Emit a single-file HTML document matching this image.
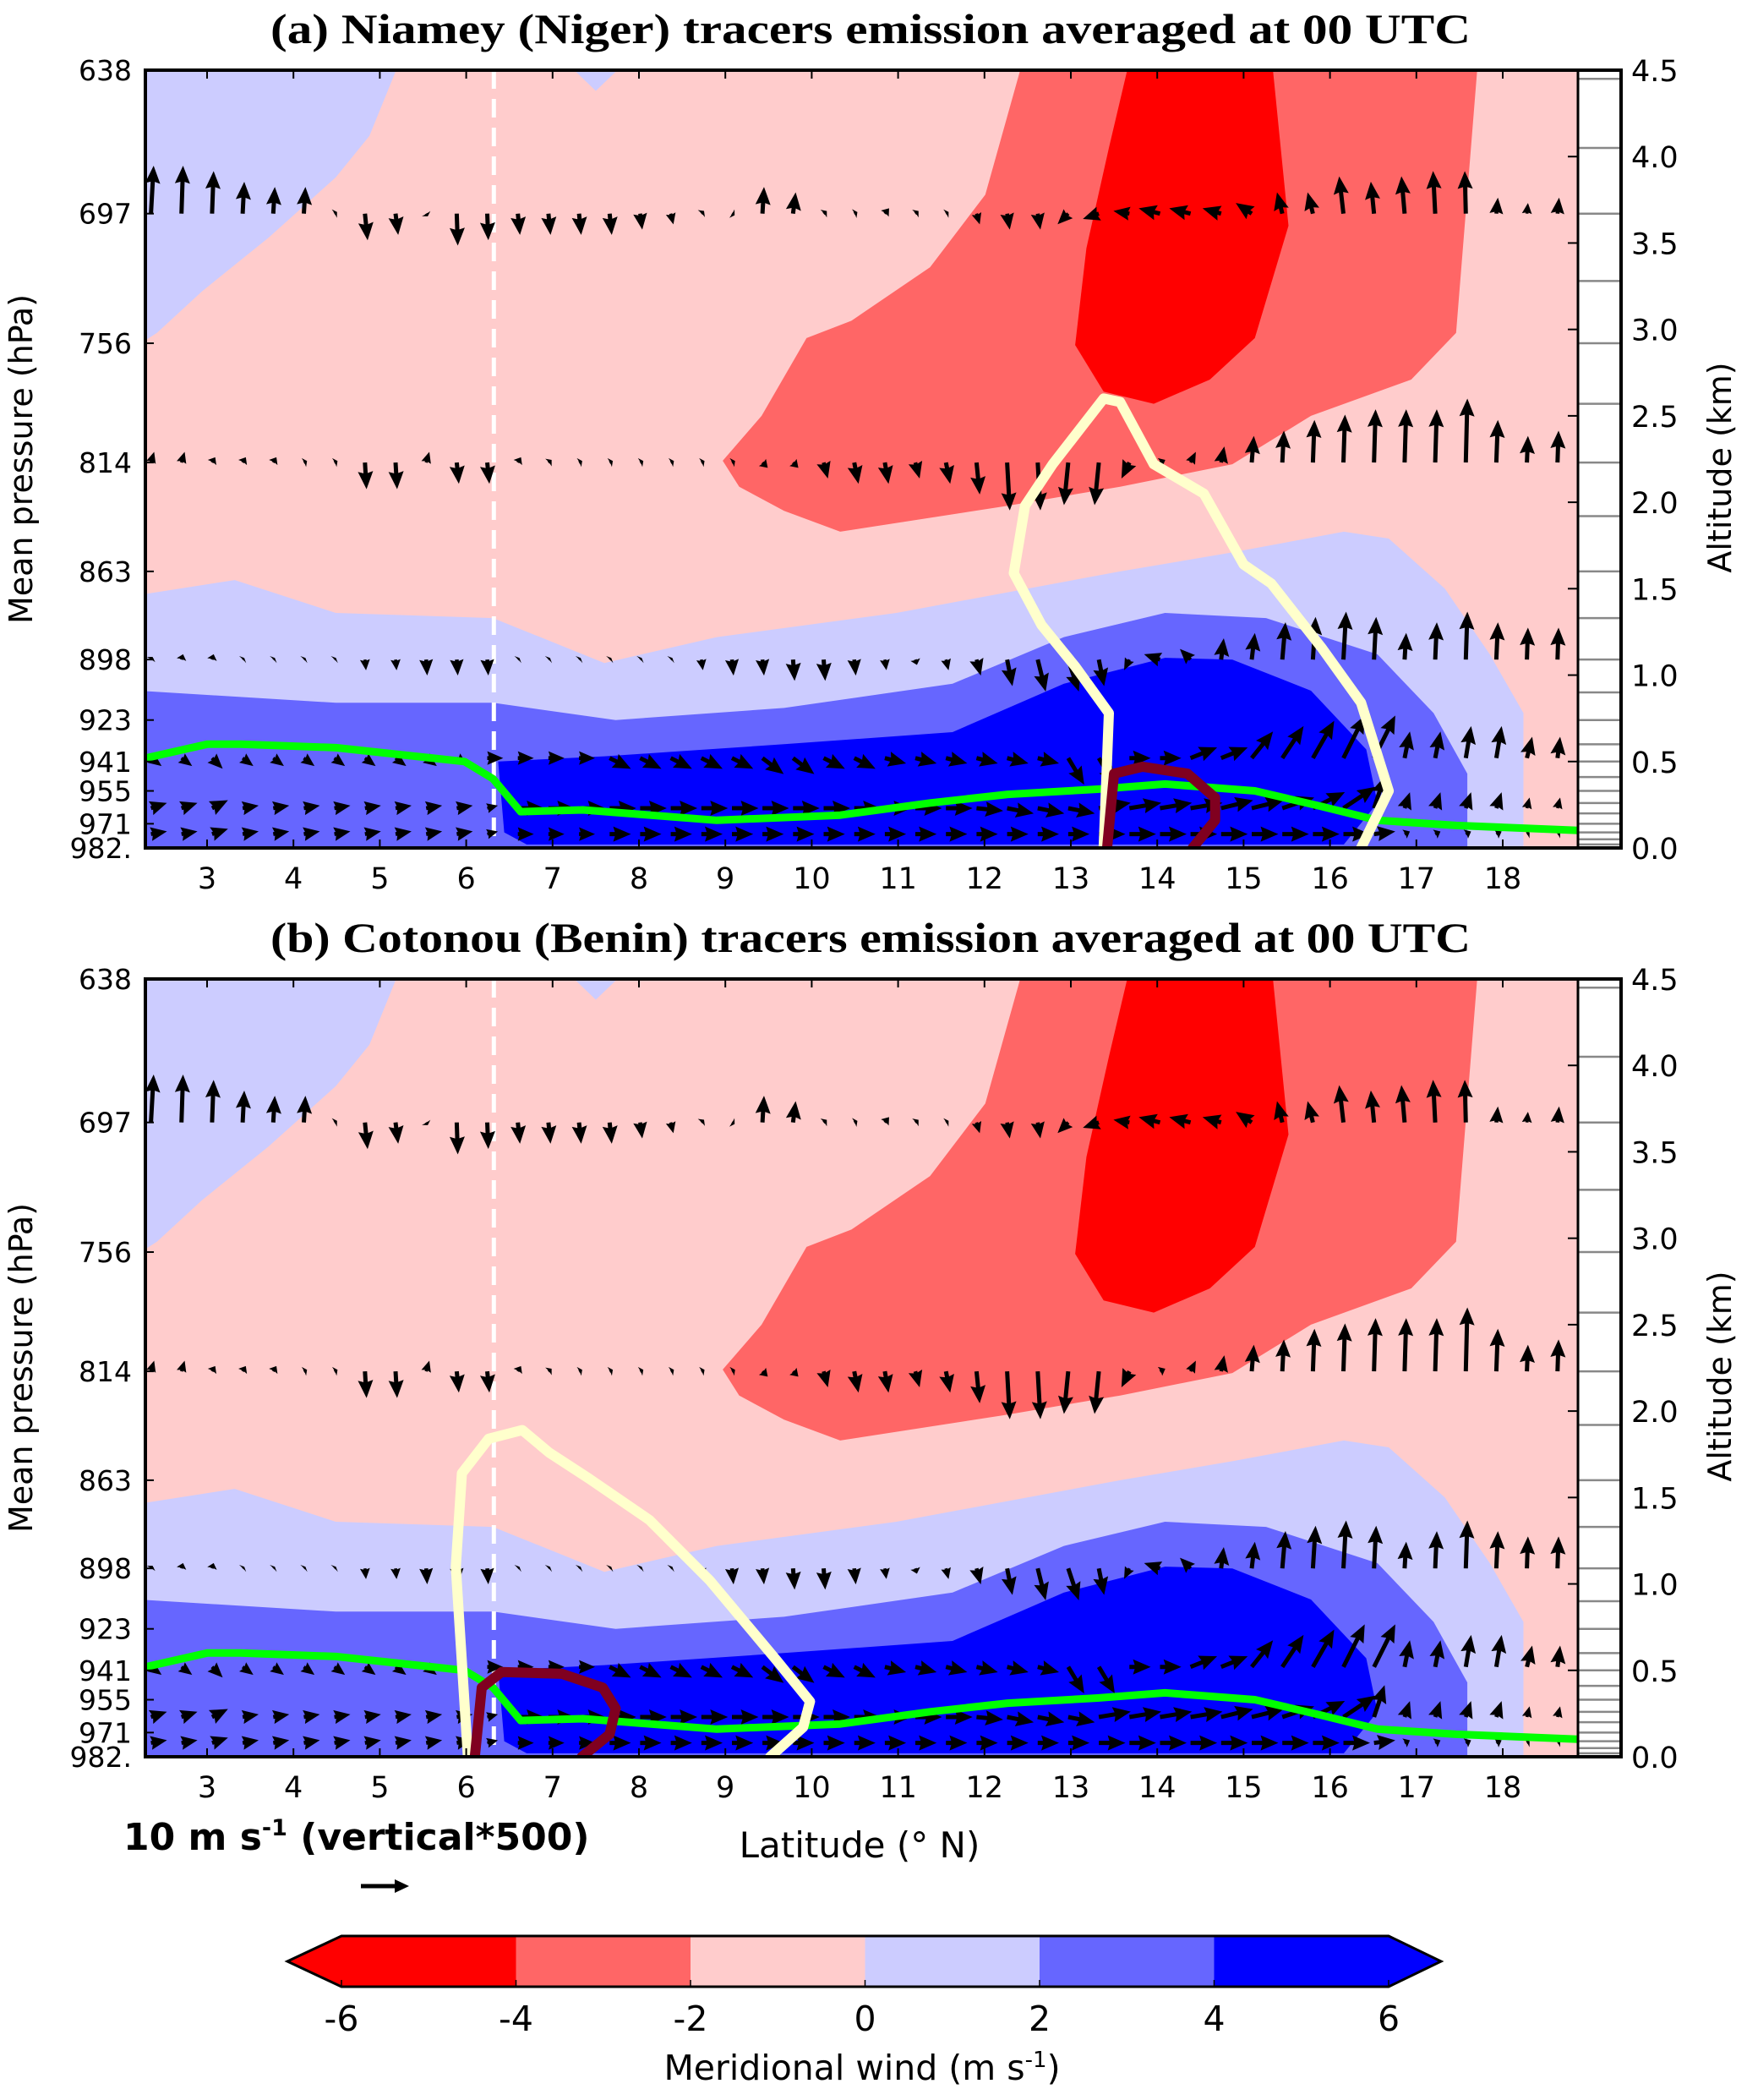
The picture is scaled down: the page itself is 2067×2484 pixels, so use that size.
<!DOCTYPE html>
<html><head><meta charset="utf-8">
<style>
html,body{margin:0;padding:0;background:#fff;}
svg text{font-family:"DejaVu Sans","Liberation Sans",sans-serif;}
</style></head>
<body>
<svg id="fig" xmlns="http://www.w3.org/2000/svg" width="2067" height="2479" viewBox="0 0 2067 2479">
<rect width="2067" height="2479" fill="#fff"/>
</svg>
<script>
// ---------- data ----------
const latTicks = [3,4,5,6,7,8,9,10,11,12,13,14,15,16,17,18];
const pressLabels = ["638","697","756","814","863","898","923","941","955","971","982."];
const pressAlts = [4.5,3.67,2.92,2.23,1.6,1.09,0.74,0.5,0.33,0.14,0.0];
const altTicks = [0,0.5,1,1.5,2,2.5,3,3.5,4,4.5];
const altTickLabels = ["0.0","0.5","1.0","1.5","2.0","2.5","3.0","3.5","4.0","4.5"];
const modelLevels = [0.02,0.05,0.09,0.14,0.2,0.26,0.33,0.41,0.5,0.6,0.74,0.9,1.09,1.33,1.6,1.92,2.23,2.57,2.92,3.28,3.67,4.05,4.45];
const cbarLevels = [-6,-4,-2,0,2,4,6];
const cbarColors = ["#ff0000","#ff6666","#ffcccc","#ccccff","#6666ff","#0000ff"];

// contour regions (lat, altitude km)
const lightBlueTop = [[2.2,4.6],[2.2,2.91],[2.42,2.98],[2.94,3.22],[3.71,3.53],[4.49,3.88],[4.88,4.12],[5.27,4.6]];
const lightBlueBump = [[7.15,4.6],[7.25,4.5],[7.5,4.38],[7.75,4.5],[7.85,4.6]];
const lightBlueLow = [[2.2,1.47],[2.29,1.47],[3.32,1.55],[4.49,1.36],[6.31,1.33],[7.6,1.07],[8.9,1.22],[10.98,1.36],[13.57,1.6],[14.87,1.71],[16.16,1.83],[16.68,1.79],[17.33,1.5],[17.85,1.12],[18.24,0.78],[18.24,-0.1],[2.2,-0.1]];
const medBlue = [[2.2,0.91],[4.49,0.84],[6.31,0.84],[7.73,0.74],[9.68,0.81],[11.63,0.95],[12.92,1.22],[14.09,1.36],[15.26,1.33],[16.55,1.12],[17.2,0.78],[17.59,0.43],[17.59,-0.1],[2.2,-0.1]];
const darkBlue = [[6.37,0.5],[7.6,0.53],[9.68,0.6],[11.63,0.67],[12.92,0.95],[14.09,1.1],[14.87,1.09],[15.78,0.91],[16.42,0.57],[16.55,0.26],[16.16,0.02],[6.7,0.02],[6.44,0.09]];
const medRed = [[8.97,2.24],[9.42,2.5],[9.94,2.95],[10.46,3.05],[11.37,3.36],[12.01,3.78],[12.47,4.6],[17.72,4.6],[17.46,2.98],[16.94,2.71],[15.78,2.5],[14.87,2.22],[13.57,2.09],[12.27,1.98],[10.98,1.88],[10.33,1.83],[9.68,1.95],[9.16,2.09]];
const strongRed = [[13.7,4.6],[15.32,4.6],[15.52,3.6],[15.13,2.95],[14.61,2.71],[13.96,2.57],[13.38,2.64],[13.05,2.91],[13.18,3.47],[13.44,4.05]];

const greenLine = [[2.29,0.52],[3.0,0.6],[3.39,0.6],[4.49,0.58],[5.98,0.5],[6.31,0.4],[6.63,0.21],[7.35,0.22],[8.9,0.16],[10.33,0.19],[11.37,0.26],[12.27,0.31],[13.31,0.34],[14.09,0.37],[15.13,0.33],[15.9,0.24],[16.55,0.16],[17.46,0.13],[18.95,0.1]];
const yellowA = [[13.38,0.0],[13.44,0.78],[13.05,1.05],[12.66,1.29],[12.34,1.59],[12.47,1.98],[12.79,2.22],[13.38,2.6],[13.57,2.58],[13.96,2.22],[14.54,2.05],[15.0,1.64],[15.32,1.53],[15.9,1.16],[16.36,0.84],[16.68,0.33],[16.36,0.0]];
const darkRedA = [[13.42,0.0],[13.5,0.43],[13.83,0.47],[14.35,0.43],[14.67,0.29],[14.67,0.16],[14.41,0.0]];
const yellowB = [[6.02,0.0],[5.88,1.1],[5.95,1.64],[6.26,1.84],[6.65,1.89],[6.96,1.76],[7.42,1.61],[8.12,1.37],[8.82,1.02],[9.59,0.56],[9.98,0.32],[9.9,0.17],[9.52,0.0]];
const darkRedB = [[6.1,0.0],[6.18,0.4],[6.41,0.49],[7.11,0.48],[7.58,0.4],[7.73,0.28],[7.66,0.13],[7.34,0.0]];

// quiver rows
const qLat0 = 2.35, qDLat = 0.354;
const rowAlts = [3.67,2.23,1.09,0.52,0.23,0.08];
const row1U = [0.5,0.3,0.3,0.3,0.3,0.3,0.5,0.5,0.5,0.3,0.2,0.2,0.4,0.4,0.4,0.4,0.4,0.5,0.5,0.5,0.3,0.5,0.6,0.6,0.8,0.6,0.5,0.6,0.5,0.5,-2,-3,-3,-4,-4,-3.5,-3,-1,-1,-0.8,-0.6,-0.6,-0.4,-0.2,0.3,0.2,0.3];
const row1W = [9,9,8,6,5,5,0.3,-5,-4,-0.5,-6,-5,-4,-4,-4,-4,-3,-2,0.5,-0.3,5,4,0.5,0.3,1,0.5,0.3,-2,-3,-3,-2,-1,0.5,1,1,1,2,4,4,7,6,7,8,8,3,2,3];
const row2U = [0.6,0.6,0.6,0.6,0.6,0.6,0.6,0.3,0.3,0.6,0.4,0.4,0.6,0.6,0.6,0.6,0.6,0.6,0.6,0.6,1,1,0.8,0.8,0.7,0.8,0.8,0.6,0.5,0.5,-0.8,-0.8,-1.5,1,1,0.6,0.4,0.3,0.3,0.3,0.3,0.3,0.3,0.3,0.3,0.2,0.2];
const row2W = [2,2,1,1,1,0.3,0.3,-5,-5,2,-4,-4,1,0.5,0.3,0.3,0.3,0.3,0.3,0.3,-1,-1,-3,-4,-4,-3,-4,-6,-9,-9,-8,-8,-3,0.5,2,3,5,6,8,9,10,10,10,12,8,5,6];
const row3U = [0.3,0.3,0.3,0.3,0.3,0.3,0.3,0.2,0.2,0.2,0.2,0.2,0.3,0.3,0.3,0.3,0.3,0.3,0.3,0.3,0.3,0.3,0.3,0.3,0.3,0.3,0.5,0.8,1,1.5,2,1,-1,-3,-2,0.5,0.6,0.6,0.5,0.5,0.4,0.3,0.3,0.3,0.3,0.2,0.2];
const row3W = [0.5,1,1,0.3,0.3,0.3,0.3,-2,-2,-3,-3,-3,0.3,0.3,0.3,0.3,0.3,0.3,-2,-3,-3,-4,-4,-3,-2,-1,-2,-3,-5,-6,-6,-5,-2,1,2,4,5,7,8,9,8,5,7,9,7,6,6];
const row4U = [2,2,2,2,2,2,2,2,2,2,2,3,3,3,3,4,4,4,4,4,4,4,4,4,4,4,4,4,4,4,3,3,4,4,5,5,4,4,4,4,4,1,1,1,1,1,0.5];
const row4W = [-1.5,-1.5,-2,-1.5,-1.5,-1.5,-1.5,-1.5,-1.5,-1.5,-1.5,0,0,0,0,-2,-2,-2,-2,-2,-3,-3,-2,-2,-1,-1,-1,-1,-1,-1,-5,-5,0,0,2,2,5,6,7,8,8,5,5,6,6,4,4];
const row5U = [3,3,3,3,3,3,3,3,3,3,3,2,5,5,5,5,5,5,5,5,5,5,5,5,5,5,5,5,5,5,5,6,6,6,6,6,6,6,6,6,2,1,1,1,1,0.5,0.5];
const row5W = [1,1,1.5,0.5,0.5,0.5,0.5,0.5,0.5,0.5,0.5,0.5,0,0,0,0,0,0,0,0,0,0,0,0,0,0,0,-0.5,-1,-1,-1,1,1,1,1,1.5,1.5,2,3,4,6,3,3,3,3,2,2];
const row6U = [3,3,3,3,3,3,3,3,3,3,3,2,3,3,3,4,4,4,4,4,4,4,4,4,4,4,4,4,4,4,4,5,5,5,5,5,5,5,5,5,4,1,1,1,1,0.5,0.5];
const row6W = [0.5,0.5,1,0.5,0.5,0.5,0.5,0.5,0.5,0.5,0.5,0.5,0,0,0,0,0,0,0,0,0,0,0,0,0,0,0,0,0,0,0,0,0,0,0,0,0,0,0,0,0.5,0.5,0.5,0.5,0.5,0.3,0.3];
const rowsU = [row1U,row2U,row3U,row4U,row5U,row6U];
const rowsW = [row1W,row2W,row3W,row4W,row5W,row6W];

// ---------- drawing ----------
const NS = "http://www.w3.org/2000/svg";
const svg = document.getElementById('fig');
function mk(tag, attrs, parent){const e=document.createElementNS(NS,tag);for(const k in attrs)e.setAttribute(k,attrs[k]);(parent||svg).appendChild(e);return e;}

const X0 = 172, X1 = 1867, STRIP = 1918;
const PX_PER_DEG = 102.2;
const xs = lat => 245 + (lat-3)*PX_PER_DEG;
const ARROW_SCALE = 6.3;

function panel(id, top, title, yellow, darkred){
  const bot = top + 920;
  const ys = a => bot - a*(920/4.5);
  const g = mk('g',{});
  
  
  const clipId = 'clip-'+id;
  const cp = mk('clipPath',{id:clipId},g);
  mk('rect',{x:X0,y:top,width:X1-X0,height:920},cp);
  const plot = mk('g',{'clip-path':'url(#'+clipId+')'},g);
  
  
  const bg = mk('rect',{x:X0,y:top,width:X1-X0,height:920,fill:'#ffcccc'},plot);
  
  
  const poly = (pts, fill, name) => {
    const p = mk('polygon',{points:pts.map(q=>xs(q[0]).toFixed(1)+','+ys(q[1]).toFixed(1)).join(' '),fill:fill},plot);
    
    
  };
  poly(lightBlueTop,'#ccccff','band-0-to-2-upper');
  poly(lightBlueBump,'#ccccff','band-0-to-2-bump');
  poly(lightBlueLow,'#ccccff','band-0-to-2-lower');
  poly(medBlue,'#6666ff','band-2-to-4');
  poly(darkBlue,'#0000ff','band-4-to-6');
  poly(medRed,'#ff6666','band-minus2-to-minus4');
  poly(strongRed,'#ff0000','band-minus4-to-minus6');
  const dl = mk('line',{x1:xs(6.32),x2:xs(6.32),y1:top,y2:bot,stroke:'#fff','stroke-width':5,'stroke-dasharray':'22 12'},plot);
  
  
  const qg = mk('g',{fill:'#000'},plot);
  
  
  rowAlts.forEach((alt,r)=>{
    rowsU[r].forEach((u,i)=>{
      const w = rowsW[r][i];
      const dx = u*ARROW_SCALE, dy = -w*ARROW_SCALE;
      let L = Math.hypot(dx,dy); if(L<0.5) return;
      const ang = Math.atan2(dy,dx)*180/Math.PI;
      let sw=5, hl=21, hw=18, ha=19;
      let s = 1;
      if(L < hl){ s = L/hl; }
      sw*=Math.max(s,0.7); hl*=s; hw*=Math.max(s,0.65); ha*=s;
      const sh = Math.max(L-ha,0);
      const pts = [[0,-sw/2],[sh,-sw/2],[L-hl,-hw/2],[L,0],[L-hl,hw/2],[sh,sw/2],[0,sw/2]];
      const a = mk('polygon',{points:pts.map(p=>p[0].toFixed(1)+','+p[1].toFixed(1)).join(' '),
        transform:'translate('+xs(qLat0+i*qDLat).toFixed(1)+','+ys(alt).toFixed(1)+') rotate('+ang.toFixed(1)+')'},qg);
      
      
    });
  });
  const line = (pts,color,wd,name)=>{
    const p = mk('polyline',{points:pts.map(q=>xs(q[0]).toFixed(1)+','+ys(q[1]).toFixed(1)).join(' '),fill:'none',stroke:color,'stroke-width':wd,'stroke-linejoin':'round','stroke-linecap':'round'},plot);
    
    
  };
  line(greenLine,'#00ff00',9,'boundary-layer-height-line');
  line(yellow,'#ffffcc',12,'tracer-contour-low');
  line(darkred,'#800020',12,'tracer-contour-high');
  const st = mk('rect',{x:X1,y:top,width:STRIP-X1,height:920,fill:'#fff'},g);
  
  
  modelLevels.forEach(a=>{
    const l = mk('line',{x1:X1,x2:STRIP,y1:ys(a),y2:ys(a),stroke:'#888','stroke-width':2.5},g);
    
    
  });
  const fr = mk('rect',{x:X0,y:top,width:STRIP-X0,height:920,fill:'none',stroke:'#000','stroke-width':4},g);
  
  
  mk('line',{x1:X1,x2:X1,y1:top,y2:bot,stroke:'#000','stroke-width':3},g);
  latTicks.forEach(t=>{
    const x = xs(t);
    mk('line',{x1:x,x2:x,y1:bot,y2:bot-10,stroke:'#000','stroke-width':2},g);
    mk('line',{x1:x,x2:x,y1:top,y2:top+10,stroke:'#000','stroke-width':2},g);
    const tx = mk('text',{x:x,y:bot+48,'font-size':35,'text-anchor':'middle'},g);
    tx.textContent = t;
    
    
  });
  pressLabels.forEach((lab,i)=>{
    const y = ys(pressAlts[i]);
    mk('line',{x1:X0,x2:X0+10,y1:y,y2:y,stroke:'#000','stroke-width':2},g);
    const tx = mk('text',{x:156,y:y+12,'font-size':33,'text-anchor':'end'},g);
    tx.textContent = lab;
    
    
  });
  altTicks.forEach((a,i)=>{
    const y = ys(a);
    mk('line',{x1:X1,x2:X1-12,y1:y,y2:y,stroke:'#000','stroke-width':2},g);
    const tx = mk('text',{x:1930,y:y+13,'font-size':35},g);
    tx.textContent = altTickLabels[i];
    
    
  });
  const yl = mk('text',{x:38,y:top+460,'font-size':38,'text-anchor':'middle',transform:'rotate(-90 38 '+(top+460)+')'},g);
  yl.textContent = 'Mean pressure (hPa)';
  
  
  const yr = mk('text',{x:2048,y:top+470,'font-size':38,'text-anchor':'middle',transform:'rotate(-90 2048 '+(top+470)+')'},g);
  yr.textContent = 'Altitude (km)';
  
  
  const tt = mk('text',{x:1030,y:top-32,'font-size':50,'font-weight':'bold','text-anchor':'middle',textLength:1420,lengthAdjust:'spacingAndGlyphs',style:'font-family:"Liberation Serif",serif'},g);
  tt.textContent = title;
  
  
}
panel('panel-a',83,'(a) Niamey (Niger) tracers emission averaged at 00 UTC',yellowA,darkRedA);
panel('panel-b',1158,'(b) Cotonou (Benin) tracers emission averaged at 00 UTC',yellowB,darkRedB);

const qk = mk('text',{x:146,y:2188,'font-size':44,'font-weight':'bold'});
qk.innerHTML = '10 m s<tspan dy="-17" font-size="27">-1</tspan><tspan dy="17"> (vertical*500)</tspan>';


const qka = mk('polygon',{points:'0,-2.5 40,-2.5 40,-8 57,0 40,8 40,2.5 0,2.5',transform:'translate(427,2231)',fill:'#000'});


const xl = mk('text',{x:1017,y:2197,'font-size':42,'text-anchor':'middle'});
xl.textContent = 'Latitude (° N)';



const CB0=404, CB1=1643, CBT=2290, CBB=2350;
const cbx = v => CB0 + (v+6)/12*(CB1-CB0);
const cbg = mk('g',{});


cbarColors.forEach((c,i)=>{
  const r = mk('rect',{x:cbx(cbarLevels[i]),y:CBT,width:cbx(cbarLevels[i+1])-cbx(cbarLevels[i])+0.5,height:CBB-CBT,fill:c},cbg);
  
  
});
const lt = mk('polygon',{points:CB0+','+CBT+' 340,'+((CBT+CBB)/2)+' '+CB0+','+CBB,fill:cbarColors[0]},cbg);


const rt = mk('polygon',{points:CB1+','+CBT+' 1705,'+((CBT+CBB)/2)+' '+CB1+','+CBB,fill:cbarColors[5]},cbg);


mk('polygon',{points:CB0+','+CBT+' '+CB1+','+CBT+' 1705,'+((CBT+CBB)/2)+' '+CB1+','+CBB+' '+CB0+','+CBB+' 340,'+((CBT+CBB)/2),fill:'none',stroke:'#000','stroke-width':3},cbg);
cbarLevels.forEach(v=>{
  mk('line',{x1:cbx(v),x2:cbx(v),y1:CBB,y2:CBB-8,stroke:'#000','stroke-width':1.5},cbg);
  const t = mk('text',{x:cbx(v),y:2402,'font-size':41,'text-anchor':'middle'},cbg);
  t.textContent = v;
  
  
});
const cbl = mk('text',{x:1020,y:2460,'font-size':41,'text-anchor':'middle'});
cbl.innerHTML = 'Meridional wind (m s<tspan dy="-15" font-size="26">-1</tspan><tspan dy="15">)</tspan>';


</script>
</body></html>
